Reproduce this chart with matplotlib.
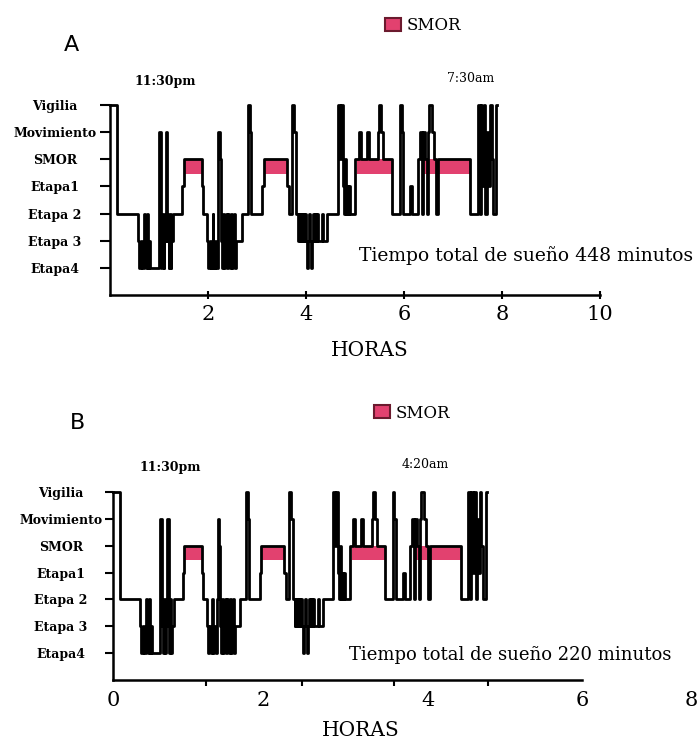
import numpy as np
import matplotlib as mpl
mpl.use('Agg')
import matplotlib.pyplot as plt
from matplotlib.patches import Patch

plt.rcParams['font.family'] = 'DejaVu Serif'

etapas = ['Etapa4', 'Etapa 3', 'Etapa 2', 'Etapa1', 'SMOR', 'Movimiento', 'Vigilia']

# hipnograma: nivel de cada tramo (0 = Etapa4 ... 6 = Vigilia), el mismo trazo en A y B
nivel = [6, 2, 1, 0, 1, 0, 2, 1, 0, 2, 0, 1, 0, 5, 1, 0, 2, 0, 1, 5,
         1, 0, 2, 0, 1, 2, 3, 4, 3, 2, 1, 0, 1, 0, 2, 0, 1, 0, 2, 5,
         4, 1, 0, 2, 0, 1, 2, 0, 2, 1, 0, 2, 0, 1, 2, 0, 1, 2, 6, 5,
         2, 3, 4, 3, 2, 6, 5, 2, 1, 2, 1, 2, 1, 2, 1, 2, 1, 0, 1, 2,
         1, 0, 1, 2, 1, 2, 1, 2, 1, 2, 1, 2, 6, 4, 6, 3, 2, 4, 2, 3,
         2, 3, 2, 4, 5, 4, 5, 4, 5, 6, 5, 4, 2, 6, 5, 2, 3, 2, 4, 5,
         2, 5, 4, 2, 5, 6, 5, 4, 2, 4, 2, 6, 2, 6, 3, 6, 2, 5, 3, 6,
         4, 2, 6]

# inicio de cada tramo en horas (el ultimo valor es el final del registro)
horas_a = [0.000, 0.143, 0.571, 0.602, 0.633, 0.663, 0.694, 0.714, 0.735, 0.755,
           0.776, 0.796, 0.816, 1.000, 1.031, 1.051, 1.071, 1.092, 1.112, 1.133,
           1.173, 1.194, 1.214, 1.235, 1.255, 1.286, 1.469, 1.510, 1.878, 1.908,
           1.980, 2.000, 2.031, 2.061, 2.092, 2.112, 2.143, 2.173, 2.194, 2.214,
           2.245, 2.265, 2.286, 2.306, 2.327, 2.347, 2.367, 2.388, 2.408, 2.429,
           2.449, 2.469, 2.490, 2.510, 2.531, 2.551, 2.571, 2.694, 2.816, 2.847,
           2.878, 3.102, 3.133, 3.612, 3.653, 3.714, 3.755, 3.796, 3.837, 3.857,
           3.878, 3.898, 3.918, 3.939, 3.959, 3.980, 4.000, 4.020, 4.041, 4.061,
           4.082, 4.102, 4.122, 4.143, 4.163, 4.184, 4.204, 4.224, 4.245, 4.327,
           4.347, 4.429, 4.653, 4.694, 4.714, 4.745, 4.776, 4.796, 4.816, 4.837,
           4.857, 4.878, 4.898, 5.000, 5.082, 5.122, 5.245, 5.286, 5.469, 5.490,
           5.531, 5.571, 5.755, 5.918, 5.949, 5.980, 6.122, 6.163, 6.286, 6.327,
           6.367, 6.388, 6.429, 6.469, 6.490, 6.510, 6.571, 6.612, 6.653, 6.694,
           7.347, 7.510, 7.541, 7.571, 7.602, 7.633, 7.663, 7.694, 7.724, 7.755,
           7.786, 7.816, 7.878, 7.908]

horas_b = [0.000, 0.087, 0.345, 0.364, 0.383, 0.401, 0.420, 0.432, 0.445, 0.457,
           0.469, 0.482, 0.494, 0.605, 0.624, 0.636, 0.648, 0.661, 0.673, 0.685,
           0.710, 0.722, 0.734, 0.747, 0.759, 0.778, 0.889, 0.914, 1.136, 1.154,
           1.198, 1.210, 1.229, 1.247, 1.266, 1.278, 1.297, 1.315, 1.327, 1.339,
           1.358, 1.370, 1.383, 1.395, 1.408, 1.420, 1.432, 1.445, 1.457, 1.470,
           1.482, 1.494, 1.506, 1.519, 1.531, 1.543, 1.555, 1.630, 1.704, 1.722,
           1.741, 1.877, 1.895, 2.185, 2.210, 2.247, 2.272, 2.297, 2.321, 2.333,
           2.346, 2.358, 2.370, 2.383, 2.395, 2.408, 2.420, 2.432, 2.445, 2.457,
           2.470, 2.482, 2.494, 2.507, 2.519, 2.531, 2.543, 2.556, 2.568, 2.618,
           2.630, 2.680, 2.815, 2.840, 2.852, 2.871, 2.889, 2.902, 2.914, 2.926,
           2.938, 2.951, 2.963, 3.025, 3.075, 3.099, 3.173, 3.198, 3.309, 3.321,
           3.346, 3.370, 3.482, 3.580, 3.599, 3.618, 3.704, 3.729, 3.803, 3.828,
           3.852, 3.865, 3.890, 3.914, 3.926, 3.939, 3.975, 4.000, 4.025, 4.050,
           4.445, 4.544, 4.562, 4.580, 4.599, 4.618, 4.636, 4.655, 4.673, 4.692,
           4.711, 4.729, 4.766, 4.784]

# periodos de sueño MOR (inicio, fin) en horas
rem_a = [(1.510, 1.878), (3.133, 3.612), (5.04, 5.755), (6.40, 7.347)]
rem_b = [(0.914, 1.136), (1.895, 2.185), (3.05, 3.482), (3.87, 4.445)]

ticks_a = [2, 4, 6, 8, 10]
ticks_b = [0, 1.92, 4.03, 6.0, 7.39]
ticklabels_b = ['0', '2', '4', '6', '8']
marcas_b = [1.19, 2.42, 3.59, 4.80, 6.0]

rosa = '#e2416f'
W, H = 697, 742


def px(x, y):
    return x / W, 1 - y / H


def hipnograma(ax, horas, rem, ticklen, pad):
    ax.broken_barh([(i, f - i) for i, f in rem], (3.45, 0.55),
                   facecolor=rosa, edgecolor='none', zorder=1)
    ax.step(horas, nivel + nivel[-1:], where='post', color='black',
            lw=2.0, zorder=2, clip_on=False)
    ax.set_ylim(-1, 6)
    ax.set_yticks(range(7), etapas, fontsize=9, fontweight='bold')
    for lbl in ax.get_yticklabels():
        lbl.set_horizontalalignment('center')
    ax.tick_params(axis='y', length=ticklen, width=1.5, pad=pad)
    ax.spines[['top', 'right']].set_visible(False)
    ax.spines[['left', 'bottom']].set_linewidth(1.8)


fig = plt.figure(figsize=(W / 100, H / 100), dpi=100)

# --- panel A ---
ax_a = fig.add_axes([110 / W, 1 - 295 / H, 490 / W, 190 / H])
hipnograma(ax_a, horas_a, rem_a, 7.2, 32.4)
ax_a.set_xlim(0, 10)
ax_a.set_xticks(ticks_a)
ax_a.tick_params(axis='x', direction='inout', length=6, width=1.5, labelsize=15, pad=4)

# --- panel B ---
ax_b = fig.add_axes([113 / W, 1 - 680 / H, 586.5 / W, 188 / H])
hipnograma(ax_b, horas_b, rem_b, 5.8, 31.7)
ax_b.set_xlim(0, 7.5)
ax_b.spines['bottom'].set_bounds(0, 6)
ax_b.set_xticks(ticks_b, ticklabels_b)
ax_b.set_xticks(marcas_b, minor=True)
ax_b.tick_params(axis='x', which='major', length=0, labelsize=15, pad=8)
ax_b.tick_params(axis='x', which='minor', direction='out', length=4, width=1.5)

# --- textos ---
fig.text(*px(71, 45), 'A', family='DejaVu Sans', fontsize=16, ha='center', va='center')
fig.text(*px(77, 423), 'B', family='DejaVu Sans', fontsize=16, ha='center', va='center')
fig.text(*px(165, 82), '11:30pm', fontsize=9, fontweight='bold', ha='center', va='center')
fig.text(*px(471, 78), '7:30am', fontsize=9, ha='center', va='center')
fig.text(*px(170, 467), '11:30pm', fontsize=9, fontweight='bold', ha='center', va='center')
fig.text(*px(425, 465), '4:20am', fontsize=9, ha='center', va='center')
fig.text(*px(526, 256), 'Tiempo total de sueño 448 minutos', fontsize=13.5, ha='center', va='center')
fig.text(*px(510, 655), 'Tiempo total de sueño 220 minutos', fontsize=13, ha='center', va='center')
fig.text(*px(370, 350), 'HORAS', fontsize=14.5, ha='center', va='center')
fig.text(*px(361, 731), 'HORAS', fontsize=14.5, ha='center', va='center')

for ax, centro in [(ax_a, px(423, 26)), (ax_b, px(412, 413))]:
    ax.legend(handles=[Patch(facecolor=rosa, edgecolor='#6b1a2e', lw=1.5)], labels=['SMOR'],
              loc='center', bbox_to_anchor=centro, bbox_transform=fig.transFigure,
              frameon=False, fontsize=12, handlelength=1.0, handleheight=0.8,
              handletextpad=0.35, borderpad=0)

fig.savefig('out.png', dpi=100)
